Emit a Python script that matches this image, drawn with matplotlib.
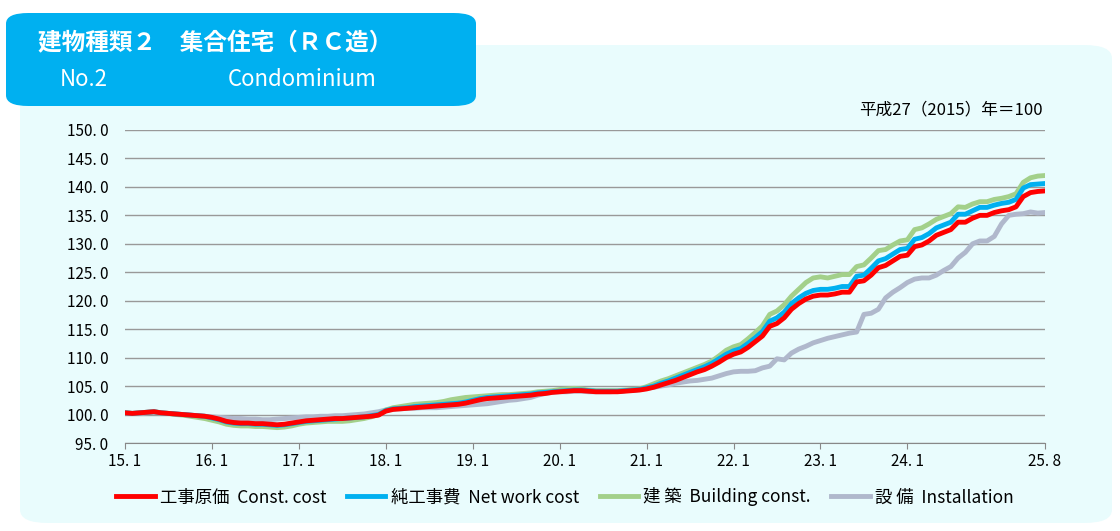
import matplotlib
matplotlib.use('Agg')
import matplotlib.pyplot as plt
from matplotlib.patches import FancyBboxPatch
import numpy as np

plt.rcParams['font.family'] = ['Noto Sans CJK JP', 'DejaVu Sans']

# 月次指数 2015.1〜2025.8
const_cost = [
    100.3, 100.2, 100.3, 100.4, 100.5, 100.3, 100.2, 100.1, 100.0, 99.9, 99.8, 99.7,
    99.5, 99.2, 98.8, 98.6, 98.5, 98.5, 98.4, 98.4, 98.3, 98.2, 98.3, 98.5,
    98.7, 98.9, 99.0, 99.1, 99.2, 99.3, 99.3, 99.4, 99.5, 99.6, 99.7, 99.9,
    100.6, 100.9, 101.0, 101.1, 101.2, 101.3, 101.4, 101.5, 101.6, 101.7, 101.8, 102.0,
    102.3, 102.6, 102.8, 102.9, 103.0, 103.1, 103.2, 103.3, 103.4, 103.6, 103.7, 103.9,
    104.0, 104.1, 104.2, 104.2, 104.1, 104.0, 104.0, 104.0, 104.0, 104.1, 104.2, 104.3,
    104.5, 104.8, 105.2, 105.6, 106.0, 106.5, 107.0, 107.5, 107.9, 108.5, 109.2, 110.0,
    110.6, 111.0, 111.8, 112.8, 113.8, 115.5, 116.0, 117.0, 118.5, 119.5, 120.3, 120.8,
    121.0, 121.0, 121.2, 121.5, 121.5, 123.3, 123.5, 124.5, 125.8, 126.2, 127.0, 127.8,
    128.0, 129.5, 129.8, 130.5, 131.5, 132.0, 132.5, 133.8, 133.8, 134.5, 135.0, 135.0,
    135.5, 135.8, 136.0, 136.5, 138.3, 139.0, 139.2, 139.3,
]
net_work = [
    100.3, 100.2, 100.3, 100.4, 100.5, 100.3, 100.2, 100.1, 100.0, 99.9, 99.8, 99.7,
    99.4, 99.1, 98.7, 98.5, 98.4, 98.4, 98.3, 98.3, 98.2, 98.1, 98.2, 98.4,
    98.6, 98.8, 98.9, 99.0, 99.1, 99.2, 99.3, 99.4, 99.5, 99.6, 99.8, 100.0,
    100.7, 101.0, 101.1, 101.2, 101.4, 101.5, 101.6, 101.7, 101.8, 101.9, 102.0, 102.2,
    102.5, 102.8, 103.0, 103.1, 103.2, 103.3, 103.4, 103.5, 103.6, 103.8, 103.9, 104.0,
    104.1, 104.2, 104.3, 104.3, 104.2, 104.1, 104.1, 104.1, 104.1, 104.2, 104.3, 104.4,
    104.7, 105.0, 105.5, 105.9, 106.4, 106.9, 107.4, 107.9, 108.4, 109.0, 109.8, 110.6,
    111.2, 111.6, 112.5, 113.5, 114.6, 116.4, 117.0, 118.0, 119.5, 120.5, 121.3, 121.8,
    122.0, 122.0, 122.2, 122.5, 122.5, 124.3, 124.5, 125.7, 127.0, 127.4, 128.2, 129.0,
    129.2, 130.8, 131.1, 131.8, 132.8, 133.3, 133.8, 135.2, 135.2, 135.8, 136.4, 136.4,
    136.8, 137.1, 137.3, 137.8, 139.8, 140.4, 140.5, 140.6,
]
building = [
    100.3, 100.2, 100.3, 100.4, 100.5, 100.3, 100.2, 100.0, 99.9, 99.7, 99.5, 99.3,
    99.0, 98.7, 98.3, 98.1, 98.0, 98.0, 97.9, 97.9, 97.8, 97.7, 97.8, 98.0,
    98.3, 98.5, 98.6, 98.7, 98.8, 98.8, 98.8, 98.9, 99.1, 99.3, 99.6, 100.0,
    100.8, 101.2, 101.4, 101.6, 101.8, 101.9, 102.0, 102.1, 102.3, 102.6, 102.8, 103.0,
    103.1, 103.2, 103.3, 103.4, 103.5, 103.5, 103.6, 103.7, 103.8, 104.0, 104.1, 104.2,
    104.4, 104.5, 104.6, 104.5, 104.3, 104.2, 104.2, 104.2, 104.2, 104.3, 104.4, 104.5,
    104.9, 105.4, 105.9, 106.3, 106.8, 107.3, 107.8, 108.3, 108.8, 109.4, 110.3, 111.3,
    111.9, 112.3, 113.3, 114.4, 115.6, 117.6, 118.2, 119.3, 120.8, 122.0, 123.2, 124.0,
    124.2, 124.0, 124.3, 124.6, 124.6, 126.0, 126.3, 127.5, 128.8, 129.0, 129.8, 130.5,
    130.7, 132.5, 132.8, 133.5, 134.3, 134.8, 135.3, 136.5, 136.4, 137.0, 137.4, 137.4,
    137.8, 138.0, 138.3, 138.8, 140.8, 141.6, 141.9, 142.0,
]
installation = [
    100.3, 100.2, 100.2, 100.3, 100.4, 100.3, 100.2, 100.1, 100.0, 99.9, 99.8, 99.7,
    99.6, 99.5, 99.4, 99.3, 99.3, 99.2, 99.2, 99.1, 99.1, 99.2, 99.3, 99.4,
    99.5, 99.6, 99.6, 99.7, 99.7, 99.8, 99.8, 99.9, 100.0, 100.1, 100.3, 100.5,
    100.8, 101.0, 101.0, 101.1, 101.1, 101.2, 101.2, 101.2, 101.3, 101.4, 101.5, 101.6,
    101.7, 101.8, 101.9, 102.1, 102.3, 102.5, 102.6, 102.8, 103.0, 103.4, 103.7, 103.9,
    104.0, 104.0, 104.1, 104.1, 104.0, 104.0, 104.0, 104.0, 104.1, 104.2, 104.3, 104.4,
    104.6, 104.8, 105.0, 105.2, 105.5, 105.7, 105.9, 106.0, 106.2, 106.4, 106.8, 107.2,
    107.5, 107.6, 107.6, 107.7, 108.2, 108.5, 109.8, 109.6, 110.8, 111.5, 112.0, 112.6,
    113.0, 113.4, 113.7, 114.0, 114.3, 114.5, 117.6, 117.8, 118.5, 120.5, 121.5, 122.3,
    123.2, 123.8, 124.0, 124.0, 124.5, 125.3, 126.0, 127.5, 128.5, 130.0, 130.5, 130.5,
    131.3, 133.5, 135.0, 135.2, 135.3, 135.6, 135.4, 135.5,
]

tick_labels = ['15.1', '16.1', '17.1', '18.1', '19.1', '20.1', '21.1',
               '22.1', '23.1', '24.1', '25.8']
tick_pos = [0, 12, 24, 36, 48, 60, 72, 84, 96, 108, 127]

fig = plt.figure(figsize=(11.2, 5.31), dpi=100)
fig.patch.set_facecolor('white')

# 背景パネルとタイトルボックス（軸より後ろに描く）
panel = FancyBboxPatch((20 / 1120, 8 / 531), 1092 / 1120, 478 / 531,
                       boxstyle='round,pad=0,rounding_size=0.025',
                       transform=fig.transFigure, facecolor='#e9fcfd',
                       edgecolor='none', zorder=-3)
fig.patches.append(panel)
title_box = FancyBboxPatch((6 / 1120, 425 / 531), 470 / 1120, 93 / 531,
                           boxstyle='round,pad=0,rounding_size=0.02',
                           transform=fig.transFigure, facecolor='#00b0f0',
                           edgecolor='none', zorder=-2)
fig.patches.append(title_box)
fig.text(38 / 1120, 488 / 531, '建物種類２　集合住宅（ＲＣ造）', color='white',
         fontsize=17, fontweight='bold', va='center', ha='left')
fig.text(60 / 1120, 452 / 531, 'No.2', color='white', fontsize=16,
         va='center', ha='left')
fig.text(228 / 1120, 452 / 531, 'Condominium', color='white', fontsize=16,
         va='center', ha='left')
fig.text(1043 / 1120, 421 / 531, '平成27（2015）年＝100', fontsize=12,
         ha='right', va='center')

ax = fig.add_axes([125 / 1120, 88 / 531, 920 / 1120, 313 / 531])
ax.set_facecolor('none')
x = np.arange(len(const_cost))
ax.plot(x, installation, color='#b0b8cc', lw=3.5, label='設 備  Installation', zorder=3)
ax.plot(x, building, color='#a3d08a', lw=3.5, label='建 築  Building const.', zorder=4)
ax.plot(x, net_work, color='#00b0f0', lw=3.5, label='純工事費  Net work cost', zorder=5)
ax.plot(x, const_cost, color='#ff0000', lw=3.5, label='工事原価  Const. cost', zorder=6)

ax.set_xlim(0, 127)
ax.set_ylim(95, 150)
yt = np.arange(95, 150.1, 5)
ax.set_yticks(yt)
ax.set_yticklabels([f'{v:.1f}'.replace('.', '. ') for v in yt])
ax.set_xticks(tick_pos)
ax.set_xticklabels([t.replace('.', '. ') for t in tick_labels])
ax.grid(axis='y', color='#999999', lw=1)
ax.set_axisbelow(True)
for s in ['top', 'right', 'left']:
    ax.spines[s].set_visible(False)
ax.spines['bottom'].set_color('#888888')
ax.tick_params(axis='y', length=0, labelsize=11, pad=12)
ax.tick_params(axis='x', direction='out', length=4, labelsize=11, color='#888888')

handles, labels = ax.get_legend_handles_labels()
fig.legend(handles[::-1], labels[::-1], loc='center', ncol=4,
           bbox_to_anchor=(565 / 1120, 34 / 531), frameon=False,
           fontsize=12.5, handlelength=2.2, handletextpad=0.3, columnspacing=1.2)

fig.savefig('out.png', dpi=100)
